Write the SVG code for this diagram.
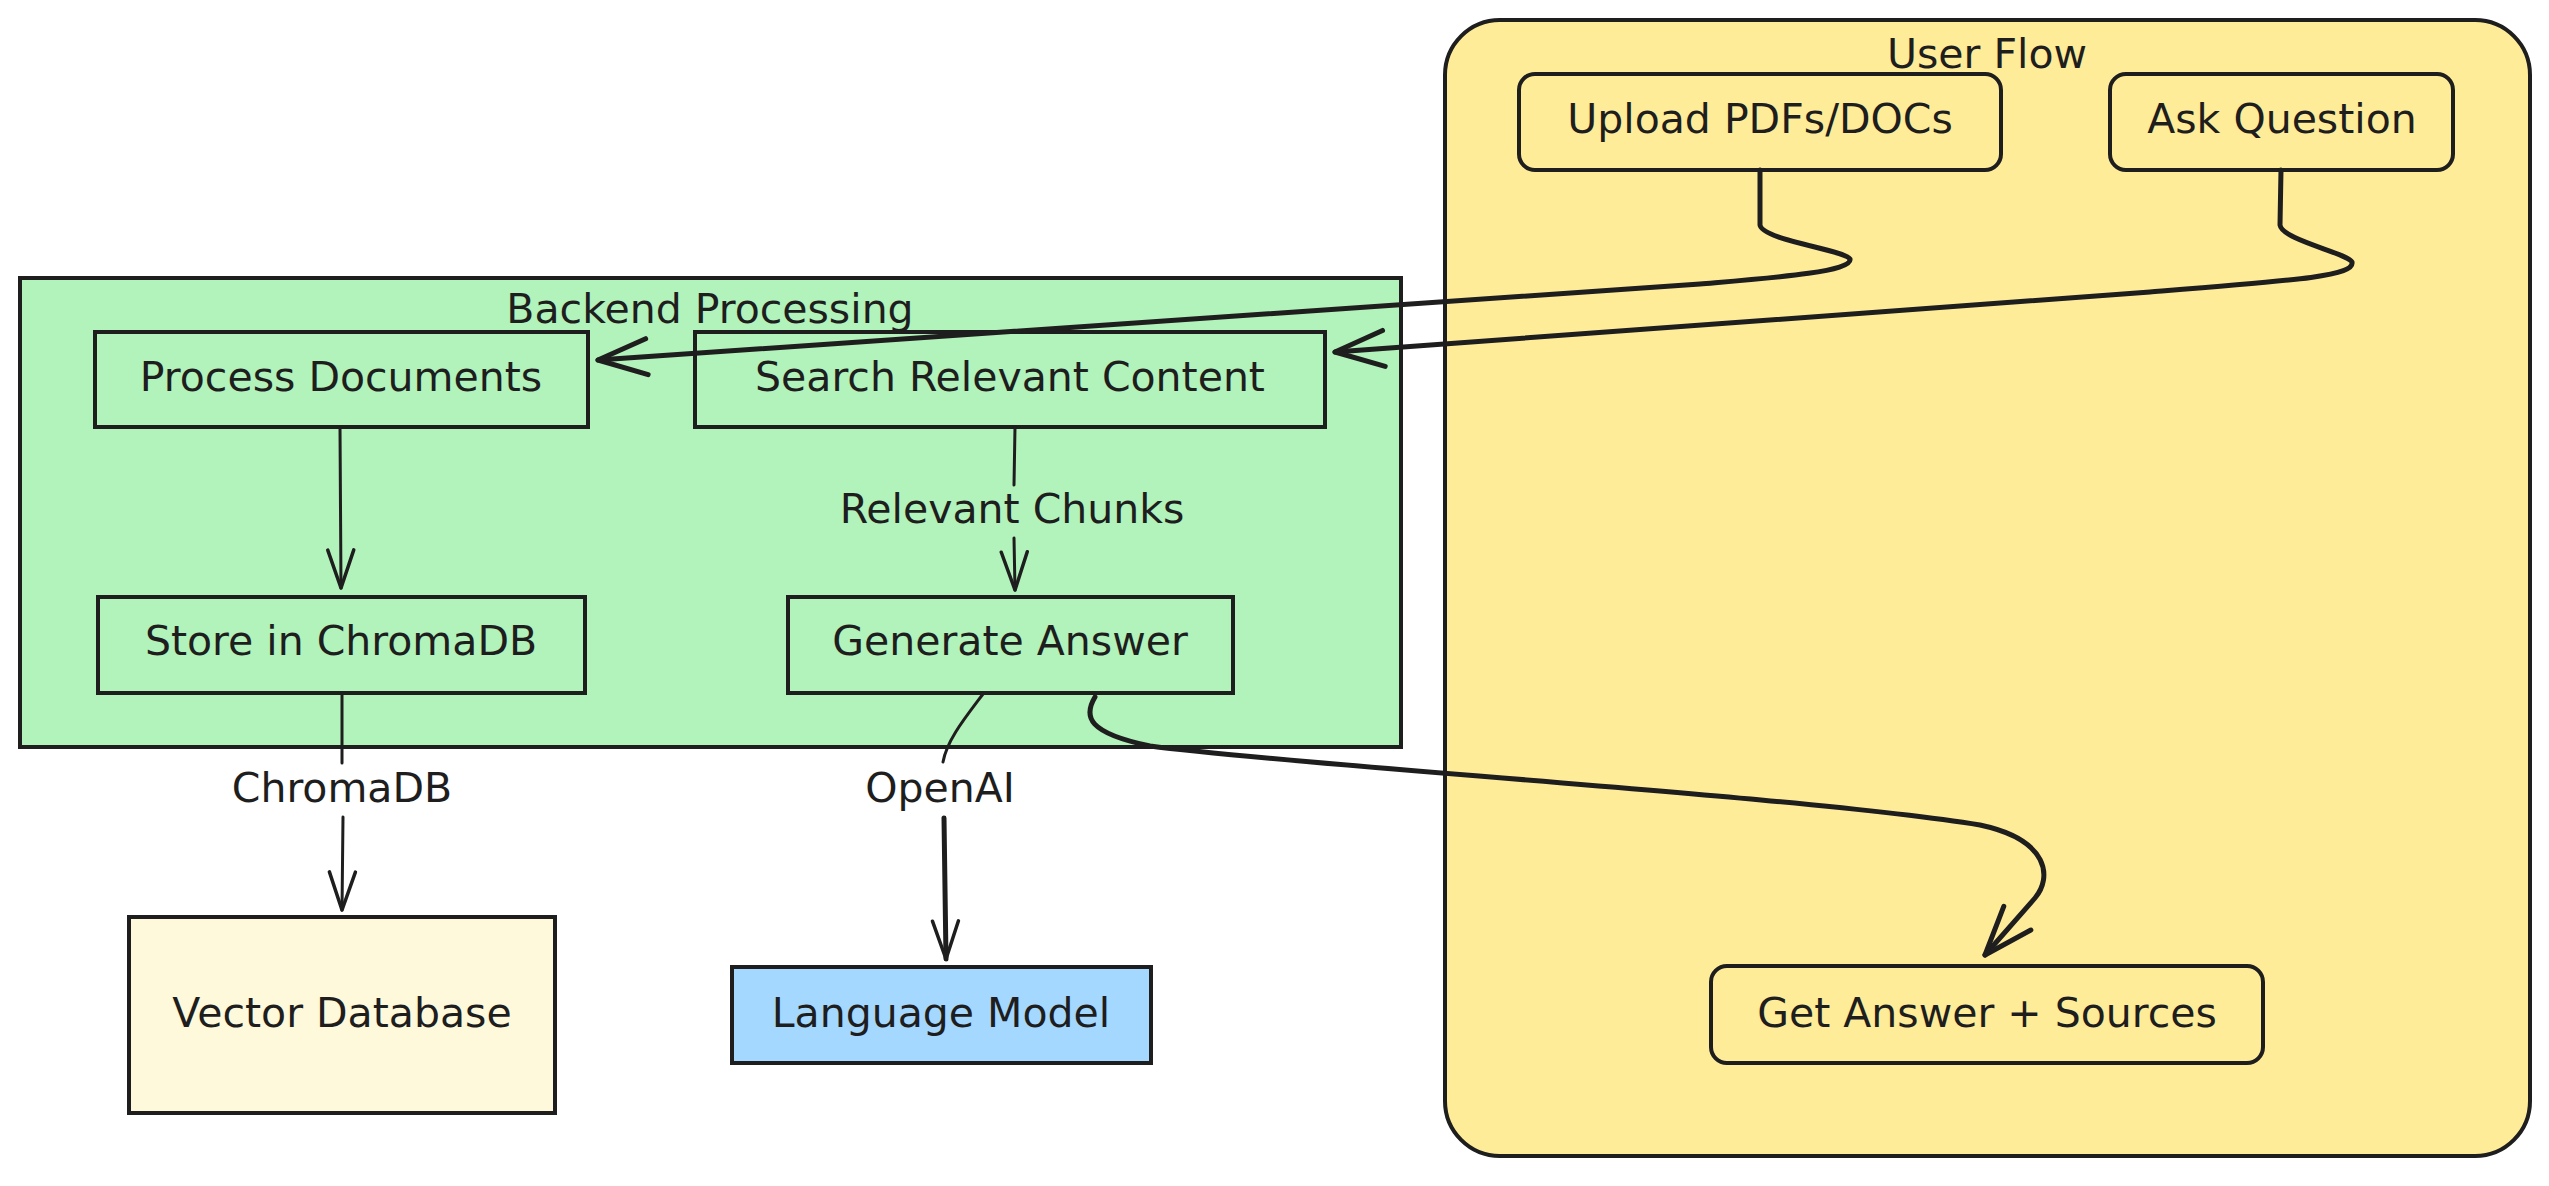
<svg xmlns="http://www.w3.org/2000/svg" width="2549" height="1186" viewBox="0 0 2549 1186">
<style>
  text { font-family: "DejaVu Sans", "Liberation Sans", sans-serif; font-size: 41px; fill: #1e1e1e; text-anchor: middle; }
  .box { stroke: #1e1e1e; stroke-width: 4; }
  .green { fill: #b2f2bb; }
  .yellow { fill: #ffec99; }
  .cream { fill: #fff9db; }
  .blue { fill: #a5d8ff; }
  .edge { fill: none; stroke: #1e1e1e; stroke-width: 5; stroke-linecap: round; stroke-linejoin: round; }
  .thin { stroke-width: 3; }
</style>
<defs>
  <marker id="ahL" markerUnits="userSpaceOnUse" markerWidth="70" markerHeight="50" viewBox="-60 -25 70 50" refX="0" refY="0" orient="auto" overflow="visible">
    <path d="M-49,-18 L0,0 L-49,18" fill="none" stroke="#1e1e1e" stroke-width="5" stroke-linecap="round" stroke-linejoin="round"/>
  </marker>
  <marker id="ahS" markerUnits="userSpaceOnUse" markerWidth="50" markerHeight="40" viewBox="-45 -20 50 40" refX="0" refY="0" orient="auto" overflow="visible">
    <path d="M-38,-13 L0,0 L-38,13" fill="none" stroke="#1e1e1e" stroke-width="3.5" stroke-linecap="round" stroke-linejoin="round"/>
  </marker>
</defs>
<rect width="2549" height="1186" fill="#ffffff"/>

<g id="backend">
  <rect class="box green" x="20" y="278" width="1381" height="469"/>
  <text x="710" y="323">Backend Processing</text>
</g>
<g id="userflow">
  <rect class="box yellow" x="1445" y="20" width="1085" height="1136" rx="55" ry="55"/>
  <text x="1987" y="68">User Flow</text>
</g>

<g id="process-documents">
  <rect class="box green" x="95" y="332" width="493" height="95"/>
  <text x="341" y="391">Process Documents</text>
</g>
<g id="search-relevant-content">
  <rect class="box green" x="695" y="332" width="630" height="95"/>
  <text x="1010" y="391">Search Relevant Content</text>
</g>
<g id="store-chromadb">
  <rect class="box green" x="98" y="597" width="487" height="96"/>
  <text x="341" y="655">Store in ChromaDB</text>
</g>
<g id="generate-answer">
  <rect class="box green" x="788" y="597" width="445" height="96"/>
  <text x="1010" y="655">Generate Answer</text>
</g>
<g id="vector-database">
  <rect class="box cream" x="129" y="917" width="426" height="196"/>
  <text x="342" y="1027">Vector Database</text>
</g>
<g id="language-model">
  <rect class="box blue" x="732" y="967" width="419" height="96"/>
  <text x="941" y="1027">Language Model</text>
</g>
<g id="upload">
  <rect class="box yellow" x="1519" y="74" width="482" height="96" rx="16" ry="16"/>
  <text x="1760" y="133">Upload PDFs/DOCs</text>
</g>
<g id="ask-question">
  <rect class="box yellow" x="2110" y="74" width="343" height="96" rx="16" ry="16"/>
  <text x="2282" y="133">Ask Question</text>
</g>
<g id="get-answer">
  <rect class="box yellow" x="1711" y="966" width="552" height="97" rx="16" ry="16"/>
  <text x="1987" y="1027">Get Answer + Sources</text>
</g>

<g id="connectors">
  <path class="edge thin" d="M340,427 L341,588" marker-end="url(#ahS)"/>
  <path class="edge thin" d="M1015,427 L1014,485"/>
  <path class="edge thin" d="M1014,538 L1015,590" marker-end="url(#ahS)"/>
  <text x="1012" y="523">Relevant Chunks</text>
  <path class="edge thin" d="M342,693 L342,763"/>
  <path class="edge thin" d="M343,817 L342,910" marker-end="url(#ahS)"/>
  <text x="342" y="802">ChromaDB</text>
  <path class="edge thin" d="M983,694 C965,718 947,740 943,762"/>
  <path class="edge" d="M944,818 L946,959" marker-end="url(#ahS)"/>
  <text x="940" y="802">OpenAI</text>
  <path class="edge" d="M1760,170 L1760,225 C1762,240 1845,250 1850,259 C1853,272 1770,278 1700,284 L598,360" marker-end="url(#ahL)"/>
  <path class="edge" d="M2281,170 L2280,225 C2282,240 2347,253 2352,262 C2355,276 2300,280 2150,292 L1335,352" marker-end="url(#ahL)"/>
  <path class="edge" d="M1095,697 C1083,717 1088,733 1150,746 C1300,766 1800,796 1980,825 C2050,840 2052,878 2035,898 L1985,955" marker-end="url(#ahL)"/>
</g>
</svg>
